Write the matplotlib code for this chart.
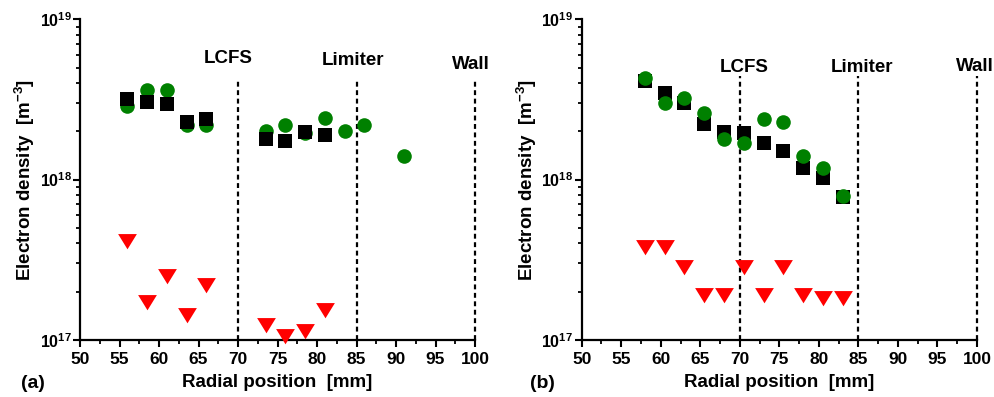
import numpy as np
import matplotlib
matplotlib.use('Agg')
import matplotlib.pyplot as plt
from matplotlib.ticker import FuncFormatter, MultipleLocator, LogLocator, NullFormatter

plt.rcParams['font.family'] = ['Liberation Sans', 'DejaVu Sans']
plt.rcParams['font.weight'] = 'bold'
plt.rcParams['mathtext.fontset'] = 'custom'
plt.rcParams['mathtext.rm'] = 'Liberation Sans:bold'
plt.rcParams['mathtext.bf'] = 'Liberation Sans:bold'

# panel (a)
a_sq_x = [56, 58.5, 61, 63.5, 66, 73.5, 76, 78.5, 81]
a_sq_y = [3.18e18, 3.05e18, 2.98e18, 2.30e18, 2.39e18, 1.79e18, 1.73e18, 1.98e18, 1.89e18]
a_ci_x = [56, 58.5, 61, 63.5, 66, 73.5, 76, 78.5, 81, 83.5, 86, 91]
a_ci_y = [2.88e18, 3.61e18, 3.61e18, 2.19e18, 2.19e18, 2.02e18, 2.19e18, 1.96e18, 2.41e18,
          2.0e18, 2.19e18, 1.40e18]
a_tr_x = [56, 58.5, 61, 63.5, 66, 73.5, 76, 78.5, 81]
a_tr_y = [4.14e17, 1.73e17, 2.51e17, 1.44e17, 2.21e17, 1.24e17, 1.06e17, 1.14e17, 1.53e17]

# panel (b)
b_x = [58, 60.5, 63, 65.5, 68, 70.5, 73, 75.5, 78, 80.5, 83]
b_sq_y = [4.14e18, 3.49e18, 2.99e18, 2.22e18, 1.99e18, 1.96e18, 1.70e18, 1.50e18, 1.18e18,
          1.02e18, 7.76e17]
b_ci_y = [4.28e18, 2.99e18, 3.22e18, 2.59e18, 1.79e18, 1.70e18, 2.39e18, 2.29e18, 1.40e18,
          1.18e18, 7.87e17]
b_tr_y = [3.82e17, 3.82e17, 2.87e17, 1.92e17, 1.92e17, 2.87e17, 1.92e17, 2.87e17, 1.92e17,
          1.83e17, 1.83e17]

boundaries = [70, 85, 100]
boundary_names = ['LCFS', 'Limiter', 'Wall']
a_label_pos = [(68.7, 5.7e18), (84.6, 5.5e18), (99.5, 5.2e18)]
b_label_pos = [(70.6, 5.0e18), (85.4, 5.0e18), (99.8, 5.1e18)]
a_line_top = 4.2e18
b_line_top = 4.4e18

tri = [(-1.2, 0.95), (1.2, 0.95), (0, -1.0)]

fig = plt.figure(figsize=(9.94, 3.97), dpi=100)
ax_a = fig.add_axes([0.0805, 0.1436, 0.3974, 0.8078])
ax_b = fig.add_axes([0.5852, 0.1436, 0.3977, 0.8078])


def style(ax):
    ax.set_yscale('log')
    ax.set_xlim(50, 100)
    ax.set_ylim(1e17, 1e19)
    ax.spines['top'].set_visible(False)
    ax.spines['right'].set_visible(False)
    ax.spines['left'].set_linewidth(1.6)
    ax.spines['bottom'].set_linewidth(1.6)
    ax.xaxis.set_major_locator(MultipleLocator(5))
    ax.xaxis.set_minor_locator(MultipleLocator(2.5))
    ax.yaxis.set_major_locator(LogLocator(base=10, numticks=5))
    ax.yaxis.set_minor_locator(LogLocator(base=10, subs=np.arange(2, 10), numticks=20))
    ax.yaxis.set_minor_formatter(NullFormatter())
    ax.yaxis.set_major_formatter(FuncFormatter(
        lambda v, p: r'$\mathbf{10^{%d}}$' % int(round(np.log10(v)))))
    ax.tick_params(which='major', direction='out', length=5, width=1.5, labelsize=12.5)
    ax.tick_params(which='minor', direction='out', length=3, width=1.3)
    ax.tick_params(axis='y', labelsize=11.5, pad=1)
    for lbl in ax.get_xticklabels():
        lbl.set_fontweight('bold')
    ax.set_xlabel('Radial position  [mm]', fontsize=13.5, fontweight='bold', labelpad=5)
    ax.set_ylabel(r'Electron density  [m$^{\mathbf{-3}}$]', fontsize=13.5,
                  fontweight='bold', labelpad=2)


for ax, top, pos in [(ax_a, a_line_top, a_label_pos), (ax_b, b_line_top, b_label_pos)]:
    style(ax)
    for xb, name, (tx, ty) in zip(boundaries, boundary_names, pos):
        ax.plot([xb, xb], [1e17, top], ls=(0, (2.2, 1.6)), color='black', lw=1.6,
                clip_on=False, zorder=1)
        ax.text(tx, ty, name, ha='center', va='center', fontsize=13.5, fontweight='bold',
                clip_on=False)

ax_a.plot(a_ci_x, a_ci_y, 'o', color='#008000', ms=10.5, mew=0, zorder=3)
ax_a.plot(a_sq_x, a_sq_y, 's', color='black', ms=9.5, mew=0, zorder=4)
ax_a.plot(a_tr_x, a_tr_y, marker=tri, ls='none', color='#ff0000', ms=13.5, mew=0,
          clip_on=False, zorder=3)

ax_b.plot(b_x, b_sq_y, 's', color='black', ms=9.5, mew=0, zorder=3)
ax_b.plot(b_x, b_ci_y, 'o', color='#008000', ms=10.5, mew=0, zorder=4)
ax_b.plot(b_x, b_tr_y, marker=tri, ls='none', color='#ff0000', ms=13.5, mew=0,
          clip_on=False, zorder=3)

fig.text(0.033, 0.035, '(a)', fontsize=14, fontweight='bold', va='center', ha='center')
fig.text(0.546, 0.035, '(b)', fontsize=14, fontweight='bold', va='center', ha='center')

fig.savefig('out.png', dpi=100)
